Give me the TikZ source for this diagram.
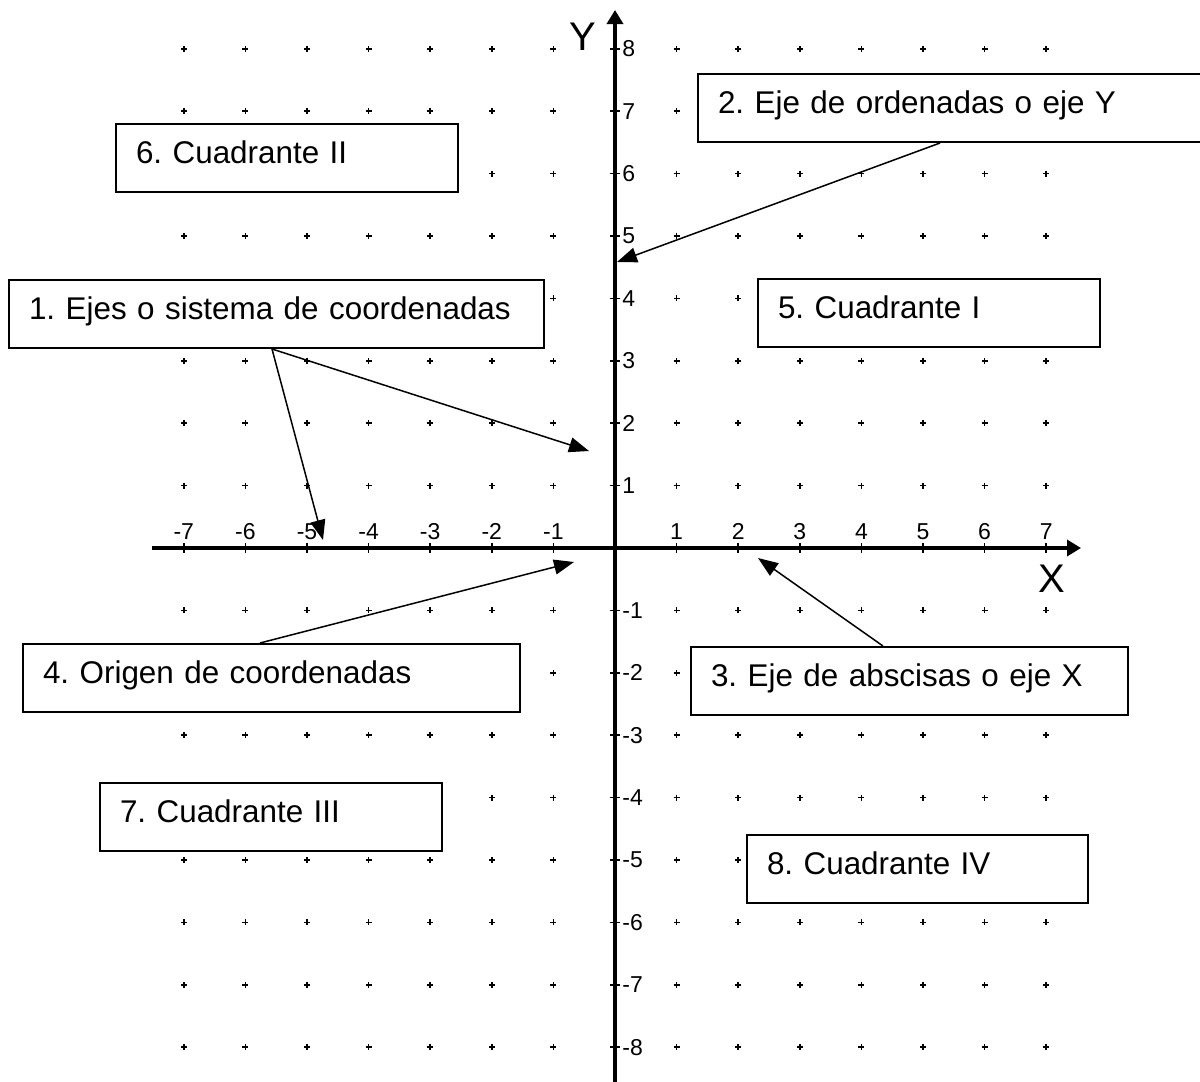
\documentclass[tikz,border=0pt]{standalone}
\usepackage{fontspec}
\setmainfont{Liberation Sans}
\usetikzlibrary{arrows.meta, calc}

\tikzset{
  caja/.style={draw, line width=1pt, fill=white, anchor=north west, align=left,
    inner xsep=10pt, inner ysep=0pt, text height=19.5pt, text depth=14.5pt,
    font=\fontsize{15.7}{19}\selectfont\frenchspacing},
  eje/.style={line width=1.7pt, -{Triangle[length=7pt,width=8pt]}},
  flecha/.style={line width=0.75pt, -{Triangle[length=10pt,width=7.5pt]}},
  punto/.style={line width=0.8pt},
  marca/.style={font=\fontsize{11.5}{13}\selectfont, inner sep=1pt}
}

\begin{document}
\frenchspacing
\begin{tikzpicture}[x=0.5pt,y=-0.5pt]
		\useasboundingbox (0,0) rectangle (1200,1082);

		% puntos de la cuadricula
		\foreach \i in {-7,...,7}{
			\foreach \j in {-8,...,8}{
				\ifnum\i=0\else\ifnum\j=0\else
					\draw[punto] ({615+61.6*\i},{548-62.4*\j}) +(-3,0) -- +(3,0) +(0,-3) -- +(0,3);
				\fi\fi
			}
		}

		% ejes
		\coordinate (O) at (615,548);
		\draw[eje] (152,548) -- (1081,548);
		\draw[eje] (615,1082) -- (615,10);
		\node[font=\fontsize{20}{24}\selectfont] (ejeX) at (1052,579) {X};
		\node[font=\fontsize{20}{24}\selectfont] (ejeY) at (583,37) {Y};

		\foreach \i in {-7,...,-1,1,2,...,7}{
			\draw[punto] ({615+61.6*\i},543) -- ++(0,10);
			\node[marca, above] at ({615+61.6*\i},542) {\i};
		}
		\foreach \j in {-8,...,-1,1,2,...,8}{
			\draw[punto] (610,{548-62.4*\j}) -- ++(10,0);
			\node[marca, right] at (620,{548-62.4*\j}) {\j};
		}

		% cuadros
		\node[caja, text width=247.5pt] (ejes) at (8,279) {1. Ejes o sistema de coordenadas};
		\node[caja, text width=260pt] (ordenadas) at (697,73) {2. Eje de ordenadas o eje Y};
		\node[caja, text width=198.5pt] (abscisas) at (690,646) {3. Eje de abscisas o eje X};
		\node[caja, text width=228.5pt] (origen) at (22,643) {4. Origen de coordenadas};
		\node[caja, text width=151pt] (cuadI) at (757,278) {5. Cuadrante I};
		\node[caja, text width=151pt] (cuadII) at (115,123) {6. Cuadrante II};
		\node[caja, text width=151pt] (cuadIII) at (99,782) {7. Cuadrante III};
		\node[caja, text width=150.5pt] (cuadIV) at (746,834) {8. Cuadrante IV};

		% flechas
		\coordinate (p1a) at (589,451);
		\coordinate (p1b) at (323,540);
		\coordinate (p2) at (617,262);
		\coordinate (p3) at (758,558);
		\coordinate (p4) at (574,562);
		\draw[flecha] ($(ejes.south west)+(264,0)$) -- (p1a);
		\draw[flecha] ($(ejes.south west)+(264,0)$) -- (p1b);
		\draw[flecha] ($(ordenadas.south west)+(243,0)$) -- (p2);
		\draw[flecha] ($(abscisas.north west)+(193,0)$) -- (p3);
		\draw[flecha] ($(origen.north west)+(238,0)$) -- (p4);
	\end{tikzpicture}
\end{document}
